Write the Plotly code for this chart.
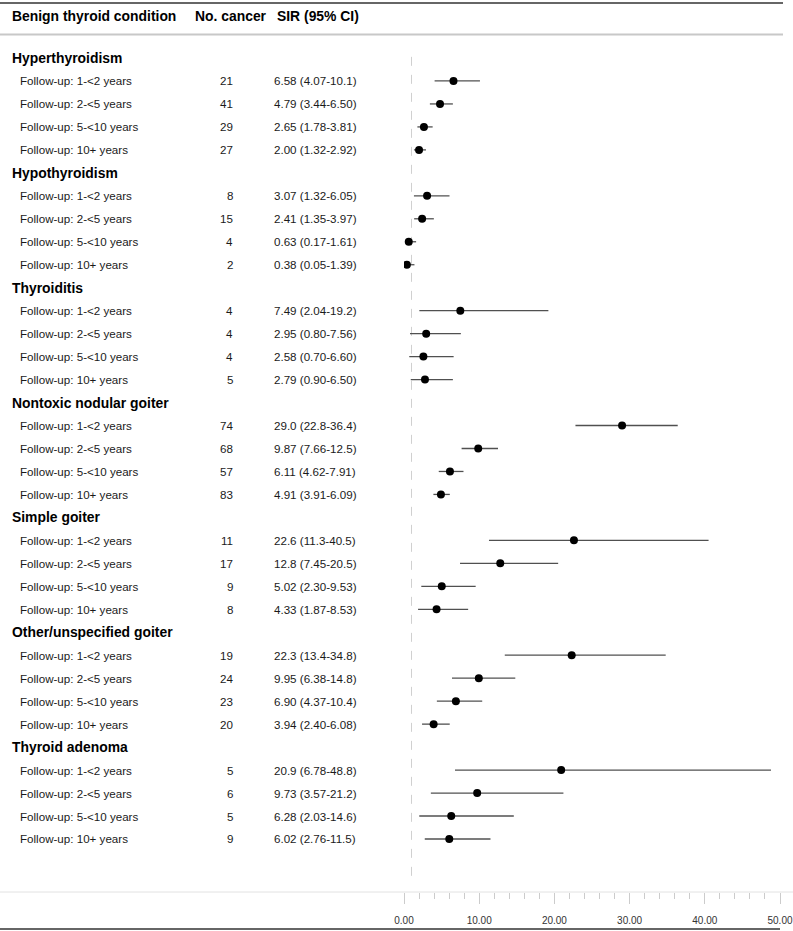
import plotly.graph_objects as go

W, H = 793, 931

# ---------------- data ----------------
groups = ["Hyperthyroidism", "Hypothyroidism", "Thyroiditis", "Nontoxic nodular goiter",
          "Simple goiter", "Other/unspecified goiter", "Thyroid adenoma"]
periods = ["Follow-up: 1-<2 years", "Follow-up: 2-<5 years",
           "Follow-up: 5-<10 years", "Follow-up: 10+ years"]
n_cancer = [21, 41, 29, 27, 8, 15, 4, 2, 4, 4, 4, 5, 74, 68, 57, 83,
            11, 17, 9, 8, 19, 24, 23, 20, 5, 6, 5, 9]
sir = [6.58, 4.79, 2.65, 2.00, 3.07, 2.41, 0.63, 0.38, 7.49, 2.95, 2.58, 2.79,
       29.0, 9.87, 6.11, 4.91, 22.6, 12.8, 5.02, 4.33, 22.3, 9.95, 6.90, 3.94,
       20.9, 9.73, 6.28, 6.02]
ci_low = [4.07, 3.44, 1.78, 1.32, 1.32, 1.35, 0.17, 0.05, 2.04, 0.80, 0.70, 0.90,
          22.8, 7.66, 4.62, 3.91, 11.3, 7.45, 2.30, 1.87, 13.4, 6.38, 4.37, 2.40,
          6.78, 3.57, 2.03, 2.76]
ci_high = [10.1, 6.50, 3.81, 2.92, 6.05, 3.97, 1.61, 1.39, 19.2, 7.56, 6.60, 6.50,
           36.4, 12.5, 7.91, 6.09, 40.5, 20.5, 9.53, 8.53, 34.8, 14.8, 10.4, 6.08,
           48.8, 21.2, 14.6, 11.5]
col_headers = ["Benign thyroid condition", "No. cancer", "SIR (95% CI)"]
x_ticks = [0, 10, 20, 30, 40, 50]
REF_LINE = 1

def fmt(v):
    return f"{v:.2f}" if v < 10 else f"{v:.1f}"

# ---------------- layout helpers ----------------
ROW0_PX = 58.0
ROW_H = 22.97
AXIS_PX = 892.0
def py(px):
    return 1 - px / H
def px_x(px):
    return px / W

y_top = -ROW0_PX / ROW_H
y_bot = (AXIS_PX - ROW0_PX) / ROW_H

rows_y, rows_idx = [], []
header_rows = []
r = 0
k = 0
for g in groups:
    header_rows.append(r)
    r += 1
    for p in periods:
        rows_y.append(r)
        rows_idx.append(k)
        k += 1
        r += 1

fig = go.Figure()

# reference line
fig.add_trace(go.Scatter(
    x=[REF_LINE, REF_LINE], y=[-0.05, 35.9], mode="lines",
    line=dict(color="#d0d0d0", width=1, dash="dash"), hoverinfo="skip", showlegend=False))

# CI + point estimates
fig.add_trace(go.Scatter(
    x=sir, y=rows_y, mode="markers",
    marker=dict(color="black", size=8),
    error_x=dict(type="data", symmetric=False,
                 array=[h - s for h, s in zip(ci_high, sir)],
                 arrayminus=[s - l for s, l in zip(sir, ci_low)],
                 color="#505050", thickness=1.3, width=0),
    showlegend=False))

ann = []
TXT = "#1a1a1a"
FONT = "Liberation Sans, Arial, sans-serif"
# column headers
for txt, xpx in zip(col_headers, [10, 193, 275]):
    ann.append(dict(x=px_x(xpx), y=py(16), xref="paper", yref="paper", text=f"<b>{txt}</b>",
                    xanchor="left", yanchor="middle", showarrow=False,
                    font=dict(size=13.9, color="black", family=FONT)))
# group headers
for g, hr in zip(groups, header_rows):
    ann.append(dict(x=px_x(10), y=hr, xref="paper", yref="y", text=f"<b>{g}</b>",
                    xanchor="left", yanchor="middle", showarrow=False,
                    font=dict(size=13.9, color="black", family=FONT)))
# rows
for i, yv in zip(rows_idx, rows_y):
    ann.append(dict(x=px_x(18), y=yv, xref="paper", yref="y", text=periods[i % 4],
                    xanchor="left", yanchor="middle", showarrow=False,
                    font=dict(size=11.6, color=TXT, family=FONT)))
    ann.append(dict(x=px_x(235), y=yv, xref="paper", yref="y", text=str(n_cancer[i]),
                    xanchor="right", yanchor="middle", showarrow=False,
                    font=dict(size=11.6, color=TXT, family=FONT)))
    ann.append(dict(x=px_x(271.5), y=yv, xref="paper", yref="y",
                    text=f"{fmt(sir[i])} ({fmt(ci_low[i])}-{fmt(ci_high[i])})",
                    xanchor="left", yanchor="middle", showarrow=False,
                    font=dict(size=11.6, color=TXT, family=FONT)))

shapes = [
    dict(type="line", xref="paper", yref="paper", x0=0, x1=px_x(783), y0=py(3), y1=py(3),
         line=dict(color="#333333", width=1.5)),
    dict(type="line", xref="paper", yref="paper", x0=0, x1=px_x(783), y0=py(34.5), y1=py(34.5),
         line=dict(color="#c8c8c8", width=2)),
    dict(type="line", xref="paper", yref="paper", x0=0, x1=1, y0=py(AXIS_PX), y1=py(AXIS_PX),
         line=dict(color="#e2e2e2", width=1)),
    dict(type="line", xref="paper", yref="paper", x0=0, x1=px_x(780), y0=py(929), y1=py(929),
         line=dict(color="#333333", width=1.5)),
]

fig.update_layout(
    width=W, height=H, margin=dict(l=0, r=0, t=0, b=0, pad=0, autoexpand=False),
    paper_bgcolor="white", plot_bgcolor="white",
    annotations=ann, shapes=shapes, showlegend=False,
    xaxis=dict(domain=[px_x(404), px_x(780)], range=[0, 50], showgrid=False, zeroline=False,
               automargin=False,
               showline=False, tickmode="array", tickvals=x_ticks, tickformat=".2f",
               ticks="outside", ticklen=11, tickcolor="#cccccc", tickwidth=1,
               ticklabelstandoff=8,
               tickfont=dict(size=10, color="#333333", family=FONT),
               minor=dict(dtick=2, ticks="outside", ticklen=6, tickcolor="#cccccc", showgrid=False),
               fixedrange=True),
    yaxis=dict(domain=[py(AXIS_PX), 1], range=[y_bot, y_top], visible=False, automargin=False,
               showgrid=False, zeroline=False, fixedrange=True),
)

fig.write_html("out.html",
               config={"displayModeBar": False},
               post_script="document.body.style.margin='0';document.body.style.overflow='hidden';")
